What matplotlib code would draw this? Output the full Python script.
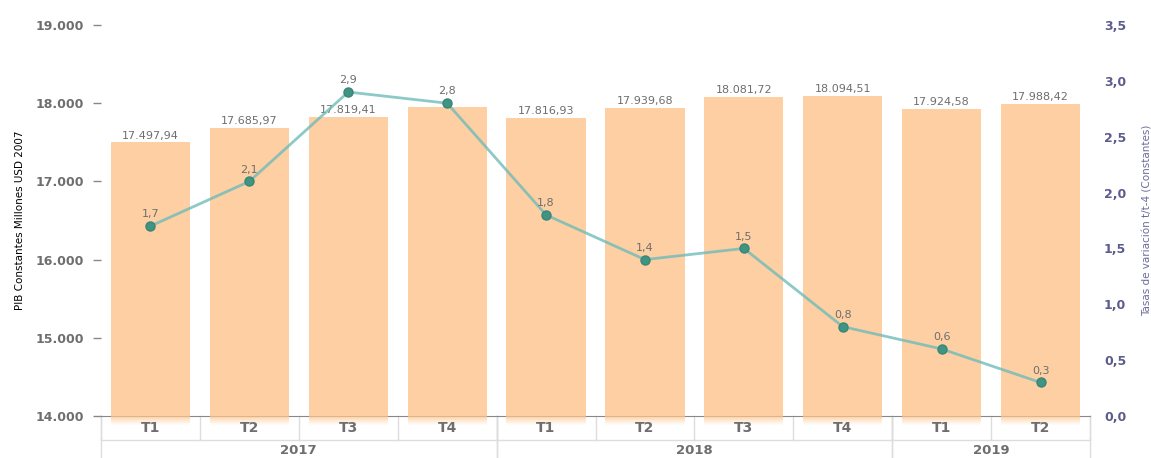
import numpy as np
import matplotlib
matplotlib.use("Agg")
import matplotlib.pyplot as plt
import matplotlib.transforms as mtransforms

# data
quarters = ["T1", "T2", "T3", "T4", "T1", "T2", "T3", "T4", "T1", "T2"]
years = ["2017", "2018", "2019"]
year_spans = [(0, 3), (4, 7), (8, 9)]
pib = [17497.94, 17685.97, 17819.41, 17955.0, 17816.93, 17939.68,
       18081.72, 18094.51, 17924.58, 17988.42]
pib_labels = ["17.497,94", "17.685,97", "17.819,41", "", "17.816,93", "17.939,68",
              "18.081,72", "18.094,51", "17.924,58", "17.988,42"]
tasa = [1.7, 2.1, 2.9, 2.8, 1.8, 1.4, 1.5, 0.8, 0.6, 0.3]
left_ticks = [14000, 15000, 16000, 17000, 18000, 19000]
right_ticks = [0.0, 0.5, 1.0, 1.5, 2.0, 2.5, 3.0, 3.5]

bar_color = "#fec48b"
line_color = "#6fbcba"
marker_color = "#3f9484"
label_gray = "#6e6e6e"
right_color = "#5c5c8c"


def es_num(v, dec):
    s = f"{v:,.{dec}f}"
    return s.replace(",", "X").replace(".", ",").replace("X", ".")


fig = plt.figure(figsize=(11.51, 4.58), dpi=100)
ax = fig.add_axes([101 / 1151, 1 - 416 / 458, 989 / 1151, 391 / 458])
x = np.arange(len(quarters))

ax.bar(x, np.array(pib) - 14000, bottom=14000, width=0.8, color=bar_color,
       alpha=0.8, linewidth=0, zorder=2)
# soft fade of the bars below the axis line
fade_steps = 10
step = 130 / fade_steps
for k in range(fade_steps):
    a = 0.8 * (1 - (k + 0.5) / fade_steps) ** 1.3
    ax.bar(x, step, bottom=14000 - (k + 1) * step, width=0.8, color=bar_color,
           alpha=a, clip_on=False, zorder=2, linewidth=0)

for xi, v, lab in zip(x, pib, pib_labels):
    if lab:
        ax.text(xi, v + 25, lab, ha="center", va="bottom", fontsize=8,
                color=label_gray, zorder=3)

ax.set_xlim(-0.5, len(quarters) - 0.5)
ax.set_ylim(14000, 19000)
ax.set_yticks(left_ticks)
ax.set_yticklabels([es_num(t, 0) for t in left_ticks], fontsize=9,
                   fontweight="bold", color=label_gray)
ax.tick_params(axis="y", length=6, width=1, color="#888888", pad=6)
ax.set_xticks([])
for side in ["top", "right", "left"]:
    ax.spines[side].set_visible(False)
ax.spines["bottom"].set_color("#888888")
ax.spines["bottom"].set_zorder(1)
ax.set_ylabel("PIB Constantes Millones USD 2007", fontsize=7.5, color="black",
              labelpad=8)

# category table under the axis
trans = mtransforms.blended_transform_factory(ax.transData, ax.transAxes)
row1 = -24 / 391
row2 = -42 / 391
grid_c = "#dddddd"
for b in np.arange(-0.5, len(quarters), 1.0):
    ax.plot([b, b], [0, row1], color=grid_c, lw=1, transform=trans,
            clip_on=False, zorder=0.5)
for start, end in year_spans:
    for b in (start - 0.5, end + 0.5):
        ax.plot([b, b], [0, row2], color=grid_c, lw=1, transform=trans,
                clip_on=False, zorder=0.5)
ax.plot([-0.5, len(quarters) - 0.5], [row1, row1], color=grid_c, lw=1,
        transform=trans, clip_on=False, zorder=0.5)
for xi, q in zip(x, quarters):
    ax.text(xi, row1 / 2, q, ha="center", va="center", fontsize=10,
            fontweight="bold", color=label_gray, transform=trans, zorder=3)
for yr, (start, end) in zip(years, year_spans):
    ax.text((start + end) / 2, (row1 + row2) / 2 - 0.003, yr, ha="center",
            va="center", fontsize=9.5, fontweight="bold", color=label_gray,
            transform=trans)

ax2 = ax.twinx()
ax2.set_position(ax.get_position())
ax2.plot(x, tasa, color=line_color, lw=2, alpha=0.8, zorder=4)
ax2.plot(x, tasa, "o", ms=6.5, color=marker_color, mec="#3a8576", mew=1, zorder=5)
for xi, v in zip(x, tasa):
    ax2.text(xi, v + 0.06, es_num(v, 1), ha="center", va="bottom", fontsize=8,
             color=label_gray, zorder=6)
ax2.set_ylim(0, 3.5)
ax2.set_yticks(right_ticks)
ax2.set_yticklabels([es_num(t, 1) for t in right_ticks], fontsize=9,
                    fontweight="bold", color=right_color)
ax2.tick_params(axis="y", length=0, pad=10)
for side in ["top", "right", "left", "bottom"]:
    ax2.spines[side].set_visible(False)
ax2.set_ylabel("Tasas de variación t/t-4 (Constantes)", fontsize=7.5,
               color="#6b6b9b", labelpad=12)

fig.savefig("out.png", dpi=100)
